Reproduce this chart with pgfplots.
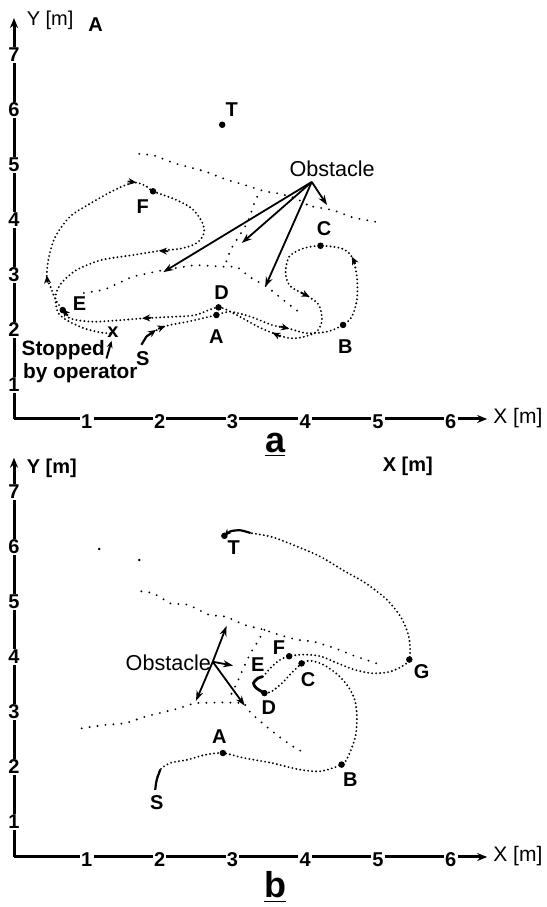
\documentclass[border=0pt]{standalone}
\usepackage{fontspec}
\setmainfont{Liberation Sans}
\usepackage{pgfplots}
\pgfplotsset{compat=1.18}
\usetikzlibrary{arrows.meta}
\pgfplotsset{
 robot/.style={
  x=36.4pt, y=27.5pt,
  xmin=0, xmax=6.5,
  axis lines=left,
  axis line style={line width=1.5pt, -{Stealth[length=5pt,width=4pt]}},
  xtick={1,...,6}, ytick={1,...,7},
  major tick length=0pt,
  /pgf/number format/assume math mode=true,
  ticklabel style={font=\fontsize{10}{10}\selectfont\bfseries, fill=white, inner sep=0.6pt, anchor=center},
  xticklabel style={yshift=-1.2pt},
  clip=false,
 },
 traj/.style={line width=1.05pt, dash pattern=on 0pt off 2pt, line cap=round, black, smooth, tension=0.5},
 obst/.style={line width=1.05pt, dash pattern=on 0pt off 4pt, line cap=round, black},
 arr/.style={line width=0.9pt, -{Stealth[length=4pt,width=3.5pt]}, black},
 oarr/.style={line width=0.9pt, -{Stealth[length=5pt,width=3.5pt]}, black},
 dots/.style={only marks, mark=*, mark size=1.4pt, black},
}
\newcommand{\lbl}{\fontsize{10}{11}\selectfont\bfseries}
\begin{document}
\begin{tikzpicture}
\useasboundingbox (0,0) rectangle (273.5pt,453.5pt);
% ---------------- panel a ----------------
\begin{axis}[robot, ymin=0.38, ymax=7.67, anchor=south west, at={(7pt,244pt)}]
% trajectory
\addplot[traj] coordinates {
(1.82,1.88)(2.06,2.06)(2.39,2.15)(2.68,2.24)(2.78,2.27)(2.97,2.33)(3.25,2.24)(3.54,2.09)
(3.76,2.03)(4.02,1.94)(4.31,1.97)(4.52,2.09)(4.64,2.24)(4.71,2.55)(4.71,2.97)(4.64,3.33)
(4.50,3.48)(4.21,3.53)(3.97,3.48)(3.78,3.33)(3.73,3.03)(3.80,2.79)(4.04,2.61)(4.19,2.45)
(4.23,2.18)(4.16,1.97)(3.97,1.87)(3.78,1.85)(3.56,1.94)(3.35,2.06)(3.06,2.27)(2.81,2.41)
(2.49,2.27)(2.20,2.24)(1.77,2.21)(1.39,2.17)(1.05,2.15)(0.77,2.21)(0.67,2.36)(0.57,2.55)
(0.50,2.79)(0.45,2.97)(0.48,3.33)(0.57,3.70)(0.77,4.06)(1.05,4.30)(1.39,4.55)(1.65,4.68)
(1.82,4.61)(1.91,4.52)(2.20,4.38)(2.44,4.21)(2.58,3.97)(2.61,3.76)(2.51,3.58)(2.30,3.48)
(2.01,3.44)(1.63,3.36)(1.20,3.27)(0.86,3.09)(0.65,2.85)(0.57,2.61)(0.60,2.33)(0.72,2.18)
(0.96,2.03)(1.20,1.95)(1.34,1.94)};
\addplot[line width=1.1pt, black, -{Stealth[length=4pt,width=3.5pt]}] coordinates {(1.75,1.73)(1.82,1.88)(1.95,2.00)};
% trajectory arrows
\addplot[arr] coordinates {(1.98,2.02)(2.08,2.07)};
\addplot[arr] coordinates {(3.66,2.06)(3.78,2.02)};
\addplot[arr] coordinates {(4.69,3.20)(4.64,3.33)};
\addplot[arr] coordinates {(3.94,2.68)(4.06,2.60)};
\addplot[arr] coordinates {(3.66,1.88)(3.55,1.95)};
\addplot[arr] coordinates {(1.88,2.22)(1.76,2.21)};
\addplot[arr] coordinates {(0.74,2.26)(0.66,2.38)};
\addplot[arr] coordinates {(0.46,2.86)(0.45,2.99)};
\addplot[arr] coordinates {(1.56,4.70)(1.68,4.68)};
\addplot[arr] coordinates {(2.12,3.43)(1.99,3.44)};
% obstacle readings
\addplot[obst] coordinates {(1.72,5.20)(1.91,5.18)(2.20,5.03)(2.63,4.88)(2.92,4.73)(3.16,4.64)(3.44,4.52)(3.64,4.48)(3.88,4.39)(4.11,4.21)};
\addplot[obst] coordinates {(4.11,4.24)(4.38,4.18)(4.66,4.04)(4.99,3.96)};
\addplot[obst] coordinates {(3.34,4.42)(3.28,4.24)(3.24,4.05)(3.17,3.87)(3.06,3.64)(2.97,3.45)(2.93,3.27)(2.87,3.15)};
\addplot[obst] coordinates {(0.96,2.67)(1.24,2.73)(1.63,2.97)(2.06,3.09)(2.49,3.18)(2.87,3.15)(3.06,3.15)(3.24,2.96)(3.48,2.78)(3.75,2.49)(3.93,2.31)};
% obstacle arrows
\addplot[oarr] coordinates {(4.09,4.69)(2.05,3.05)};
\addplot[oarr] coordinates {(4.09,4.69)(3.13,3.58)};
\addplot[oarr] coordinates {(4.09,4.69)(3.45,2.78)};
\addplot[oarr] coordinates {(4.09,4.69)(4.30,4.27)};
% points
\addplot[dots] coordinates {(2.86,5.73)(2.78,2.27)(2.81,2.41)(4.52,2.09)(4.21,3.53)(1.91,4.52)(0.67,2.36)};
% stopped arrow
\addplot[line width=1pt, black, -{Stealth[length=3.5pt,width=3pt]}] coordinates {(1.27,1.48)(1.34,1.80)};
\node[font=\lbl] at (axis cs:1.36,1.95) {x};
\node[font=\lbl] at (axis cs:2.99,6.0) {T};
\node[font=\lbl] at (axis cs:1.77,4.24) {F};
\node[font=\lbl] at (axis cs:0.90,2.48) {E};
\node[font=\lbl] at (axis cs:2.85,2.67) {D};
\node[font=\lbl] at (axis cs:2.78,1.88) {A};
\node[font=\lbl] at (axis cs:1.77,1.48) {S};
\node[font=\lbl] at (axis cs:4.55,1.70) {B};
\node[font=\lbl] at (axis cs:4.26,3.85) {C};
\node[font=\fontsize{10.8}{12}\selectfont] at (axis cs:4.37,4.93) {Obstacle};
\node[font=\fontsize{10.4}{12}\selectfont\bfseries, anchor=west, inner sep=0pt] at (axis cs:0.10,1.64) {Stopped};
\node[font=\fontsize{10.4}{12}\selectfont\bfseries, anchor=west, inner sep=0pt] at (axis cs:0.12,1.21) {by operator};
\node[font=\fontsize{10}{11}\selectfont, anchor=west, inner sep=0pt] at (axis cs:0.17,7.62) {Y [m]};
\node[font=\lbl] at (axis cs:1.12,7.55) {A};
\node[font=\fontsize{10.5}{11}\selectfont, anchor=west, inner sep=0pt] at (axis cs:6.58,0.40) {X [m]};
\node[font=\fontsize{18}{18}\selectfont\bfseries, anchor=north] at (axis cs:3.59,0.25) {\underline{a}};
\end{axis}
% ---------------- panel b ----------------
\begin{axis}[robot, ymin=0.36, ymax=7.62, anchor=south west, at={(7pt,25pt)}]
\addplot[traj] coordinates {
(1.96,1.76)(2.01,1.95)(2.15,2.07)(2.39,2.13)(2.63,2.22)(2.87,2.25)(3.16,2.16)(3.54,2.07)
(3.92,1.95)(4.21,1.92)(4.50,2.04)(4.59,2.19)(4.69,2.55)(4.71,2.92)(4.68,3.22)(4.59,3.46)
(4.45,3.67)(4.26,3.85)(4.07,3.93)(3.95,3.88)};
\addplot[traj] coordinates {(3.95,3.88)(3.83,3.73)(3.68,3.52)(3.54,3.37)(3.44,3.34)};
\addplot[line width=1.4pt, black, smooth] coordinates {(3.44,3.34)(3.33,3.43)(3.29,3.52)(3.35,3.61)(3.42,3.64)};
\addplot[traj] coordinates {(3.42,3.64)(3.54,3.82)(3.66,3.95)(3.78,4.01)(3.97,4.04)(4.21,4.01)(4.45,3.88)
(4.69,3.76)(4.93,3.70)(5.17,3.73)(5.36,3.85)(5.43,3.95)(5.44,4.19)(5.41,4.43)(5.31,4.73)
(5.12,5.04)(4.83,5.34)(4.55,5.55)(4.21,5.82)(3.88,6.01)(3.54,6.18)(3.25,6.25)};
\addplot[line width=1.1pt, black, smooth] coordinates {(1.94,1.58)(1.96,1.76)(2.01,1.95)};
\addplot[line width=1.1pt, black, smooth, -{Stealth[length=3.5pt,width=3pt]}] coordinates {(3.25,6.25)(3.11,6.30)(2.97,6.28)(2.89,6.20)};
% obstacle readings
\addplot[obst] coordinates {(1.75,5.19)(1.91,5.16)(2.15,4.97)(2.39,4.95)(2.68,4.76)(2.92,4.73)(3.16,4.58)(3.44,4.49)(3.64,4.40)(3.88,4.31)(4.11,4.28)(4.40,4.16)(4.69,4.01)(4.98,3.88)};
\addplot[obst] coordinates {(3.44,4.49)(3.35,4.28)(3.25,4.07)(3.16,3.82)(3.06,3.52)(2.97,3.28)};
\addplot[obst] coordinates {(0.93,2.70)(1.24,2.76)(1.53,2.79)(1.82,2.92)(2.20,3.04)(2.49,3.16)(2.87,3.17)(3.16,3.16)(3.25,2.98)(3.44,2.76)(3.64,2.55)(3.83,2.37)(3.95,2.28)};
\addplot[only marks, mark=*, mark size=0.4pt, black] coordinates {(1.17,5.96)(1.72,5.76)};
% obstacle arrows
\addplot[oarr] coordinates {(2.73,3.91)(2.92,4.56)};
\addplot[oarr] coordinates {(2.73,3.91)(3.01,3.84)};
\addplot[oarr] coordinates {(2.73,3.91)(3.17,3.11)};
\addplot[oarr] coordinates {(2.73,3.91)(2.50,3.20)};
% points
\addplot[dots] coordinates {(2.87,2.25)(4.50,2.04)(3.95,3.88)(3.44,3.34)(3.78,4.01)(5.43,3.95)(2.89,6.20)};
\node[font=\lbl] at (axis cs:1.96,1.34) {S};
\node[font=\lbl] at (axis cs:2.82,2.55) {A};
\node[font=\lbl] at (axis cs:4.62,1.76) {B};
\node[font=\lbl] at (axis cs:4.04,3.58) {C};
\node[font=\lbl] at (axis cs:3.50,3.07) {D};
\node[font=\lbl] at (axis cs:3.35,3.85) {E};
\node[font=\lbl] at (axis cs:3.64,4.16) {F};
\node[font=\lbl] at (axis cs:5.60,3.73) {G};
\node[font=\lbl] at (axis cs:3.02,5.98) {T};
\node[font=\fontsize{10.8}{12}\selectfont] at (axis cs:2.12,3.89) {Obstacle};
\node[font=\fontsize{10}{11}\selectfont\bfseries, anchor=west, inner sep=0pt] at (axis cs:0.17,7.43) {Y [m]};
\node[font=\fontsize{10}{11}\selectfont\bfseries] at (axis cs:5.41,7.46) {X [m]};
\node[font=\fontsize{10.5}{11}\selectfont, anchor=west, inner sep=0pt] at (axis cs:6.58,0.38) {X [m]};
\node[font=\fontsize{18}{18}\selectfont\bfseries, anchor=north] at (axis cs:3.59,0.22) {\underline{b}};
\end{axis}
\end{tikzpicture}
\end{document}
